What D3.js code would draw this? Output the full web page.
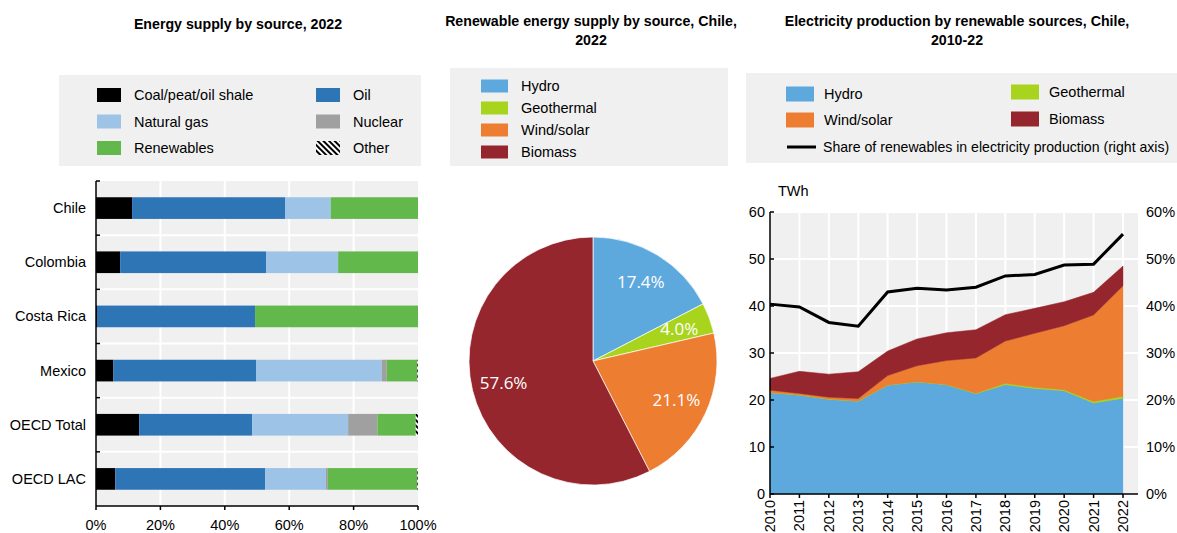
<!DOCTYPE html>
<html lang="en">
	<head>
		<meta charset="utf-8">
		<title>Chile energy</title>
		<script type="text/javascript" src="https://cdn.jsdelivr.net/npm/d3@7"></script>
		<style type="text/css">
			body {
				margin: 0px;
				background: white;
			}
			text {
				font-family: "Liberation Sans", Arial, sans-serif;
				font-size: 14.5px;
				fill: #000;
			}
			.title {
				font-weight: bold;
				font-size: 14.2px;
			}
			.pielabel {
				font-family: "Open Sans", sans-serif;
				font-size: 17px;
				fill: white;
			}
		</style>
	</head>
	<body>
		<script type="text/javascript">
			//Data - panel 1
			var countries = ["Chile", "Colombia", "Costa Rica", "Mexico", "OECD Total", "OECD LAC"];
			var sources = ["Coal/peat/oil shale", "Oil", "Natural gas", "Nuclear", "Renewables", "Other"];
			var coal = [11.2, 7.5, 0.3, 5.4, 13.4, 6.0];
			var oil = [47.5, 45.3, 49.1, 44.3, 35.1, 46.5];
			var gas = [14.2, 22.4, 0, 39.1, 29.8, 18.9];
			var nuclear = [0, 0, 0, 1.5, 9.1, 0.6];
			var renewables = [27.1, 24.8, 50.6, 9.5, 11.9, 27.8];
			var other = [0, 0, 0, 0.2, 0.7, 0.2];
			var pctTicks = [0, 20, 40, 60, 80, 100];

			//Data - panel 2
			var pieSources = ["Hydro", "Geothermal", "Wind/solar", "Biomass"];
			var pieShares = [17.4, 4.0, 21.1, 57.6];

			//Data - panel 3
			var years = [2010, 2011, 2012, 2013, 2014, 2015, 2016, 2017, 2018, 2019, 2020, 2021, 2022];
			var hydro = [21.6, 21.1, 20.2, 19.8, 23.2, 23.9, 23.3, 21.4, 23.3, 22.5, 22.0, 19.4, 20.4];
			var geothermal = [0, 0, 0, 0, 0, 0, 0, 0.05, 0.25, 0.2, 0.2, 0.3, 0.4];
			var windSolar = [0.5, 0.3, 0.4, 0.5, 2.0, 3.4, 5.1, 7.5, 9.0, 11.5, 13.6, 18.4, 23.5];
			var biomass = [2.5, 4.7, 4.9, 5.7, 5.2, 5.7, 5.9, 6.0, 5.6, 5.3, 5.1, 4.8, 4.2];
			var shareRenew = [40.4, 39.8, 36.5, 35.7, 43.0, 43.8, 43.4, 44.0, 46.4, 46.7, 48.7, 48.9, 55.3];
			var twhTicks = [0, 10, 20, 30, 40, 50, 60];

			//Colours
			var energyColor = {
				"Coal/peat/oil shale": "#000000",
				"Oil": "#2e75b6",
				"Natural gas": "#9dc3e6",
				"Nuclear": "#a0a0a0",
				"Renewables": "#63b84b",
				"Other": "url(#hatch)"
			};
			var renewColor = {
				"Hydro": "#5da9dd",
				"Geothermal": "#a8d41e",
				"Wind/solar": "#ed7d31",
				"Biomass": "#95262d"
			};
			var bg = "#f0f0f0";

			var w = 1177;
			var h = 533;

			var svg = d3.select("body")
				.append("svg")
				.attr("width", w)
				.attr("height", h);

			//hatch pattern for "Other"
			var pat = svg.append("defs").append("pattern")
				.attr("id", "hatch")
				.attr("patternUnits", "userSpaceOnUse")
				.attr("width", 4)
				.attr("height", 4)
				.attr("patternTransform", "rotate(-45)");
			pat.append("rect").attr("width", 4).attr("height", 4).attr("fill", "white");
			pat.append("rect").attr("width", 2).attr("height", 4).attr("fill", "black");

			//========== Panel 1: stacked bars ==========
			var p1 = svg.append("g");

			p1.append("text")
				.attr("class", "title")
				.attr("x", 238).attr("y", 29)
				.attr("text-anchor", "middle")
				.text("Energy supply by source, 2022");

			p1.append("rect")
				.attr("x", 59).attr("y", 75)
				.attr("width", 362).attr("height", 91)
				.attr("fill", bg);

			var leg1Order = ["Coal/peat/oil shale", "Natural gas", "Renewables", "Oil", "Nuclear", "Other"];
			leg1Order.forEach(function(s, i) {
				var col = Math.floor(i / 3), row = i % 3;
				var lx = col == 0 ? 97 : 316;
				var ly = 95 + row * 26.5;
				p1.append("rect")
					.attr("x", lx).attr("y", ly - 7)
					.attr("width", 24).attr("height", 14)
					.attr("fill", energyColor[s]);
				p1.append("text")
					.attr("x", lx + 37).attr("y", ly)
					.attr("dy", "0.35em")
					.text(s);
			});

			var x1 = d3.scaleLinear().domain([0, 100]).range([96, 418]);
			var y1 = d3.scaleBand().domain(countries).range([181, 506]).paddingInner(0.6).paddingOuter(0.3);

			p1.append("rect")
				.attr("x", x1(0)).attr("y", 181)
				.attr("width", x1(100) - x1(0)).attr("height", 506 - 181)
				.attr("fill", bg);

			//gridlines
			p1.selectAll(".vgrid")
				.data(pctTicks.slice(1, 5))
				.enter().append("line")
				.attr("x1", function(d) { return x1(d); })
				.attr("x2", function(d) { return x1(d); })
				.attr("y1", 181).attr("y2", 506)
				.attr("stroke", "white").attr("stroke-width", 2);

			var bandEdges = countries.slice(1).map(function(c) { return y1(c) - y1.step() * y1.paddingInner() / 2; });
			p1.selectAll(".hgrid")
				.data(bandEdges)
				.enter().append("line")
				.attr("x1", x1(0)).attr("x2", x1(100))
				.attr("y1", function(d) { return d; })
				.attr("y2", function(d) { return d; })
				.attr("stroke", "white").attr("stroke-width", 2);

			//stacks
			var table1 = countries.map(function(c, i) {
				return {
					country: c,
					"Coal/peat/oil shale": coal[i],
					"Oil": oil[i],
					"Natural gas": gas[i],
					"Nuclear": nuclear[i],
					"Renewables": renewables[i],
					"Other": other[i]
				};
			});
			var stack1 = d3.stack().keys(sources)(table1);

			p1.selectAll(".series")
				.data(stack1)
				.enter().append("g")
				.attr("fill", function(d) { return energyColor[d.key]; })
				.selectAll("rect")
				.data(function(d) { return d; })
				.enter().append("rect")
				.attr("x", function(d) { return x1(d[0]); })
				.attr("width", function(d) { return Math.max(0, x1(d[1]) - x1(d[0])); })
				.attr("y", function(d) { return y1(d.data.country); })
				.attr("height", y1.bandwidth());

			//axes
			p1.append("line")
				.attr("x1", 96).attr("x2", 96)
				.attr("y1", 181).attr("y2", 506)
				.attr("stroke", "black").attr("stroke-width", 1.5);
			p1.append("line")
				.attr("x1", 96).attr("x2", 418)
				.attr("y1", 506).attr("y2", 506)
				.attr("stroke", "black").attr("stroke-width", 1.5);

			var yTicks = [181].concat(bandEdges);
			p1.selectAll(".ytick")
				.data(yTicks)
				.enter().append("line")
				.attr("x1", 96).attr("x2", 100)
				.attr("y1", function(d) { return d; })
				.attr("y2", function(d) { return d; })
				.attr("stroke", "black").attr("stroke-width", 1.5);

			p1.selectAll(".xtick")
				.data(pctTicks)
				.enter().append("line")
				.attr("x1", function(d) { return x1(d); })
				.attr("x2", function(d) { return x1(d); })
				.attr("y1", 506).attr("y2", 510)
				.attr("stroke", "black").attr("stroke-width", 1.5);

			p1.selectAll(".xlab")
				.data(pctTicks)
				.enter().append("text")
				.attr("x", function(d) { return x1(d); })
				.attr("y", 525)
				.attr("dy", "0.35em")
				.attr("text-anchor", "middle")
				.text(function(d) { return d + "%"; });

			p1.selectAll(".ylab")
				.data(countries)
				.enter().append("text")
				.attr("x", 86)
				.attr("y", function(d) { return y1(d) + y1.bandwidth() / 2; })
				.attr("dy", "0.35em")
				.attr("text-anchor", "end")
				.text(function(d) { return d; });

			//========== Panel 2: pie ==========
			var p2 = svg.append("g");

			p2.append("text")
				.attr("class", "title")
				.attr("x", 591).attr("y", 26)
				.attr("text-anchor", "middle")
				.text("Renewable energy supply by source, Chile,");
			p2.append("text")
				.attr("class", "title")
				.attr("x", 591).attr("y", 45)
				.attr("text-anchor", "middle")
				.text("2022");

			p2.append("rect")
				.attr("x", 450).attr("y", 68)
				.attr("width", 278).attr("height", 98)
				.attr("fill", bg);

			pieSources.forEach(function(s, i) {
				var ly = 86 + i * 22;
				p2.append("rect")
					.attr("x", 481).attr("y", ly - 6.5)
					.attr("width", 27).attr("height", 13)
					.attr("fill", renewColor[s]);
				p2.append("text")
					.attr("x", 521).attr("y", ly)
					.attr("dy", "0.35em")
					.text(s);
			});

			var pie = d3.pie().sort(null).value(function(d) { return d; });
			var arcs = pie(pieShares);
			var r = 124;
			var arc = d3.arc().innerRadius(0).outerRadius(r);
			var labelArc = d3.arc().innerRadius(92).outerRadius(92);

			var pg = p2.append("g").attr("transform", "translate(593,361)");
			pg.selectAll("path")
				.data(arcs)
				.enter().append("path")
				.attr("d", arc)
				.attr("fill", function(d, i) { return renewColor[pieSources[i]]; })
				.attr("stroke", "white")
				.attr("stroke-width", 0.7);

			pg.selectAll(".pielabel")
				.data(arcs)
				.enter().append("text")
				.attr("class", "pielabel")
				.attr("transform", function(d) { return "translate(" + labelArc.centroid(d) + ")"; })
				.attr("dy", "0.35em")
				.attr("text-anchor", "middle")
				.text(function(d) { return d.value.toFixed(1) + "%"; });

			//========== Panel 3: stacked area + line ==========
			var p3 = svg.append("g");

			p3.append("text")
				.attr("class", "title")
				.attr("x", 957).attr("y", 26)
				.attr("text-anchor", "middle")
				.text("Electricity production by renewable sources, Chile,");
			p3.append("text")
				.attr("class", "title")
				.attr("x", 957).attr("y", 45)
				.attr("text-anchor", "middle")
				.text("2010-22");

			p3.append("rect")
				.attr("x", 746).attr("y", 73)
				.attr("width", 431).attr("height", 90)
				.attr("fill", bg);

			var leg3 = [
				{ key: "Hydro", x: 786, y: 94 },
				{ key: "Wind/solar", x: 786, y: 120 },
				{ key: "Geothermal", x: 1011, y: 92 },
				{ key: "Biomass", x: 1011, y: 119 }
			];
			leg3.forEach(function(d) {
				p3.append("rect")
					.attr("x", d.x).attr("y", d.y - 7.5)
					.attr("width", 28).attr("height", 15)
					.attr("fill", renewColor[d.key]);
				p3.append("text")
					.attr("x", d.x + 38).attr("y", d.y)
					.attr("dy", "0.35em")
					.text(d.key);
			});
			p3.append("line")
				.attr("x1", 787).attr("x2", 816)
				.attr("y1", 147).attr("y2", 147)
				.attr("stroke", "black").attr("stroke-width", 3);
			p3.append("text")
				.attr("x", 823).attr("y", 147)
				.attr("dy", "0.35em")
				.style("font-size", "14.1px")
				.text("Share of renewables in electricity production (right axis)");

			var x3 = d3.scalePoint().domain(years).range([770, 1123]);
			var y3 = d3.scaleLinear().domain([0, 60]).range([494, 212]);
			var y3r = d3.scaleLinear().domain([0, 60]).range([494, 212]);

			p3.append("rect")
				.attr("x", 770).attr("y", 212)
				.attr("width", 1138 - 770).attr("height", 494 - 212)
				.attr("fill", bg);

			p3.selectAll(".hgrid")
				.data(twhTicks.slice(1))
				.enter().append("line")
				.attr("x1", 770).attr("x2", 1138)
				.attr("y1", function(d) { return y3(d); })
				.attr("y2", function(d) { return y3(d); })
				.attr("stroke", "white").attr("stroke-width", 2);
			p3.selectAll(".vgrid")
				.data(years.slice(1))
				.enter().append("line")
				.attr("x1", function(d) { return x3(d); })
				.attr("x2", function(d) { return x3(d); })
				.attr("y1", 212).attr("y2", 494)
				.attr("stroke", "white").attr("stroke-width", 2);

			var table3 = years.map(function(yr, i) {
				return {
					year: yr,
					"Hydro": hydro[i],
					"Geothermal": geothermal[i],
					"Wind/solar": windSolar[i],
					"Biomass": biomass[i]
				};
			});
			var stack3 = d3.stack().keys(pieSources)(table3);
			var area = d3.area()
				.x(function(d) { return x3(d.data.year); })
				.y0(function(d) { return y3(d[0]); })
				.y1(function(d) { return y3(d[1]); });

			p3.selectAll(".area")
				.data(stack3)
				.enter().append("path")
				.attr("d", area)
				.attr("fill", function(d) { return renewColor[d.key]; })
				.attr("stroke", function(d) { return renewColor[d.key]; })
				.attr("stroke-width", d => d.key == "Geothermal" ? 1 : 0.5);

			var line = d3.line()
				.x(function(d, i) { return x3(years[i]); })
				.y(function(d) { return y3r(d); });
			p3.append("path")
				.datum(shareRenew)
				.attr("d", line)
				.attr("fill", "none")
				.attr("stroke", "black")
				.attr("stroke-width", 3);

			//axes
			p3.append("line")
				.attr("x1", 770).attr("x2", 770)
				.attr("y1", 212).attr("y2", 494)
				.attr("stroke", "black").attr("stroke-width", 1.5);
			p3.append("line")
				.attr("x1", 770).attr("x2", 1138)
				.attr("y1", 494).attr("y2", 494)
				.attr("stroke", "black").attr("stroke-width", 1.5);

			p3.selectAll(".ytick")
				.data(twhTicks)
				.enter().append("line")
				.attr("x1", 770).attr("x2", 774)
				.attr("y1", function(d) { return y3(d); })
				.attr("y2", function(d) { return y3(d); })
				.attr("stroke", "black").attr("stroke-width", 1.5);
			p3.selectAll(".xtick")
				.data(years)
				.enter().append("line")
				.attr("x1", function(d) { return x3(d); })
				.attr("x2", function(d) { return x3(d); })
				.attr("y1", 494).attr("y2", 498)
				.attr("stroke", "black").attr("stroke-width", 1.5);

			p3.selectAll(".ylab")
				.data(twhTicks)
				.enter().append("text")
				.attr("x", 765)
				.attr("y", function(d) { return y3(d); })
				.attr("dy", "0.35em")
				.attr("text-anchor", "end")
				.text(function(d) { return d; });
			p3.selectAll(".ylabr")
				.data(twhTicks)
				.enter().append("text")
				.attr("x", 1146)
				.attr("y", function(d) { return y3r(d); })
				.attr("dy", "0.35em")
				.text(function(d) { return d + "%"; });

			p3.append("text")
				.attr("x", 778).attr("y", 191)
				.attr("dy", "0.35em")
				.text("TWh");

			p3.selectAll(".xlab")
				.data(years)
				.enter().append("text")
				.attr("transform", function(d) { return "translate(" + x3(d) + ",500) rotate(-90)"; })
				.attr("dy", "0.35em")
				.attr("text-anchor", "end")
				.text(function(d) { return d; });
		</script>
	</body>
</html>
